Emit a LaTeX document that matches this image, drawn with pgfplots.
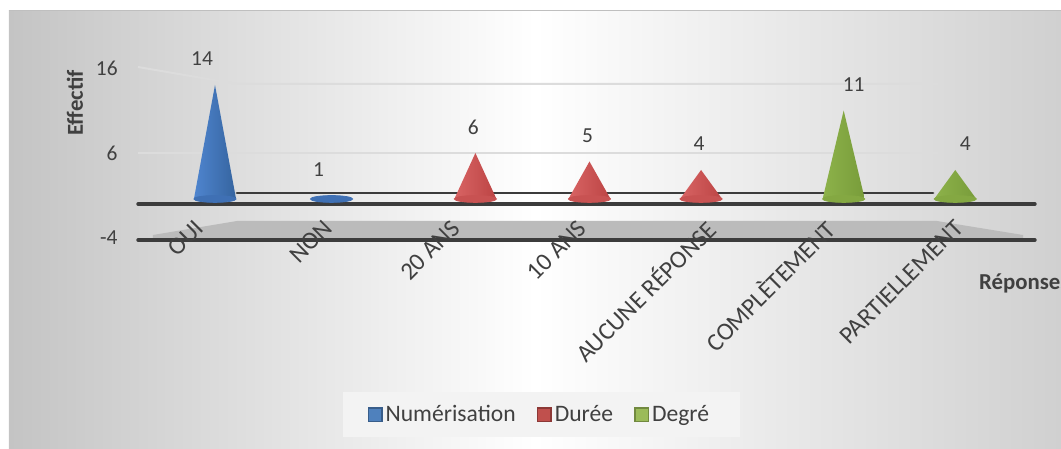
\documentclass[border=0pt]{standalone}
\usepackage{pgfplots}
\pgfplotsset{compat=1.18}
\usepackage{fontspec}
\setmainfont{Carlito}
\definecolor{txt}{HTML}{404040}
\definecolor{bgL}{HTML}{C4C4C4}
\definecolor{bgR}{HTML}{D0D0D0}
\definecolor{gridc}{HTML}{DCDCDC}
\definecolor{bandc}{HTML}{BBBBBB}
\definecolor{linec}{HTML}{3C3C3C}
\definecolor{legbg}{HTML}{F3F3F3}
% cone colours
\definecolor{bL}{HTML}{4F85CF}\definecolor{bH}{HTML}{A8CDF4}\definecolor{bR}{HTML}{35649F}\definecolor{bRim}{HTML}{3F70B4}
\definecolor{rL}{HTML}{D86464}\definecolor{rH}{HTML}{F8B2B2}\definecolor{rR}{HTML}{BC4444}\definecolor{rRim}{HTML}{C85252}
\definecolor{gL}{HTML}{8DB24A}\definecolor{gH}{HTML}{DAF0A2}\definecolor{gR}{HTML}{789C3A}\definecolor{gRim}{HTML}{84A842}
% legend colours
\definecolor{lB}{HTML}{4F81BD}\definecolor{lBd}{HTML}{385D8A}
\definecolor{lR}{HTML}{C0504D}\definecolor{lRd}{HTML}{8C3836}
\definecolor{lG}{HTML}{9BBB59}\definecolor{lGd}{HTML}{71893F}
\begin{document}
\begin{tikzpicture}
% ---- decoration in pixel coordinates (1 px = 0.5 pt) ----
\begin{scope}[shift={(-107.5pt,102pt)}, x=0.5pt, y=-0.5pt]
  \shade[left color=bgL, right color=bgR, middle color=white] (9,11) rectangle (1061,449);
  \draw[gray!50, line width=0.5pt] (9,11) -- (1061,11);
  \draw[gridc, line width=1pt] (138,67) -- (237,84) -- (938,84);
  \draw[gridc, line width=1pt] (138,153) -- (938,153);
  \fill[bandc] (153,235) -- (237,221) -- (937,221) -- (1023,235) -- (1023,240) -- (153,240) -- cycle;
  \draw[linec, line width=1.7pt, line cap=round] (138,204) -- (1035,204);
  \draw[linec, line width=1.7pt, line cap=round] (138,240) -- (1035,240);
  \draw[linec, line width=1.4pt, line cap=round] (237,193) -- (933,193);
  \fill[legbg] (343,392) rectangle (740,437);
  \node[rotate=90, text=txt, font=\bfseries\fontsize{11.4}{13}\selectfont] at (75,103) {Effectif};
  \node[anchor=west, text=txt, font=\bfseries\fontsize{11.4}{13}\selectfont] at (972,283) {Réponses};
\end{scope}
\begin{axis}[
  at={(0,0)}, anchor=origin,
  x=62pt, y=4.25pt,
  xmin=-0.621, xmax=6.613, ymin=-4.2, ymax=16,
  clip=false,
  axis line style={draw=none},
  major tick length=0pt, tick style={draw=none},
  /pgf/number format/assume math mode=true,
  ytick={-4,6,16},
  yticklabel style={anchor=east, inner sep=0pt, xshift=-10pt, text=txt, font=\fontsize{10.7}{12}\selectfont},
  xtick={-0.065,0.97,2.0,3.02,4.06,5.02,6.06},
  xticklabels={OUI,NON,20 ANS,10 ANS,AUCUNE RÉPONSE,COMPLÈTEMENT,PARTIELLEMENT},
  xticklabel style={rotate=45, anchor=east, inner sep=0pt, yshift=8pt, xshift=3pt, text=txt, font=\fontsize{12.4}{14}\selectfont},
  legend style={at={(axis cs:2.62,-24.8)}, anchor=center, legend columns=3, draw=none, fill=none,
    text=txt, font=\fontsize{11.8}{14}\selectfont, nodes={inner sep=1.5pt},
    /tikz/every even column/.append style={column sep=9pt}},
  legend image code/.code={\draw[#1, line width=0.7pt] (0pt,-3.4pt) rectangle (6.8pt,3.4pt);},
]
% ---------- Numérisation ----------
\addplot[forget plot, only marks, color=bRim, mark=*, mark size=1.7pt, mark options={xscale=6.2, fill=bRim, draw=bRim}]
  coordinates {(0,0.59) (0.94,0.59)};
\addplot[forget plot, draw=none, shade, shading=axis, shading angle=90, left color=bL, middle color=bH, right color=bR]
  coordinates {(-0.17,0.59) (0,14) (0.17,0.59)} -- cycle;
\addplot[forget plot, draw=none, shade, shading=axis, shading angle=90, left color=bL, middle color=bH, right color=bR]
  coordinates {(0.77,0.59) (0.94,1) (1.11,0.59)} -- cycle;
\addplot[forget plot, draw=none, mark=none, nodes near coords,
  nodes near coords style={anchor=center, yshift=13pt, xshift=-6.5pt, text=txt, font=\fontsize{10.7}{12}\selectfont}]
  coordinates {(0,14) (0.94,1)};
% ---------- Durée ----------
\addplot[forget plot, only marks, color=rRim, mark=*, mark size=1.7pt, mark options={xscale=6.2, fill=rRim, draw=rRim}]
  coordinates {(2.10,0.59) (3.02,0.59) (3.92,0.59)};
\addplot[forget plot, draw=none, shade, shading=axis, shading angle=90, left color=rL, middle color=rH, right color=rR]
  coordinates {(1.93,0.59) (2.10,6) (2.27,0.59)} -- cycle;
\addplot[forget plot, draw=none, shade, shading=axis, shading angle=90, left color=rL, middle color=rH, right color=rR]
  coordinates {(2.85,0.59) (3.02,5) (3.19,0.59)} -- cycle;
\addplot[forget plot, draw=none, shade, shading=axis, shading angle=90, left color=rL, middle color=rH, right color=rR]
  coordinates {(3.75,0.59) (3.92,4) (4.09,0.59)} -- cycle;
\addplot[forget plot, draw=none, mark=none, nodes near coords,
  nodes near coords style={anchor=center, yshift=13pt, xshift=-1pt, text=txt, font=\fontsize{10.7}{12}\selectfont}]
  coordinates {(2.10,6) (3.02,5) (3.92,4)};
% ---------- Degré ----------
\addplot[forget plot, only marks, color=gRim, mark=*, mark size=1.7pt, mark options={xscale=6.2, fill=gRim, draw=gRim}]
  coordinates {(5.07,0.59) (5.97,0.59)};
\addplot[forget plot, draw=none, shade, shading=axis, shading angle=90, left color=gL, middle color=gH, right color=gR]
  coordinates {(4.90,0.59) (5.07,11) (5.24,0.59)} -- cycle;
\addplot[forget plot, draw=none, shade, shading=axis, shading angle=90, left color=gL, middle color=gH, right color=gR]
  coordinates {(5.80,0.59) (5.97,4) (6.14,0.59)} -- cycle;
\addplot[forget plot, draw=none, mark=none, nodes near coords,
  nodes near coords style={anchor=center, yshift=13pt, xshift=5pt, text=txt, font=\fontsize{10.7}{12}\selectfont}]
  coordinates {(5.07,11) (5.97,4)};
% ---------- legend ----------
\addlegendimage{fill=lB, draw=lBd}\addlegendentry{Numérisation}
\addlegendimage{fill=lR, draw=lRd}\addlegendentry{Durée}
\addlegendimage{fill=lG, draw=lGd}\addlegendentry{Degré}
\end{axis}
\pgfresetboundingbox
\begin{scope}[shift={(-107.5pt,102pt)}, x=0.5pt, y=-0.5pt]
  \path[use as bounding box] (0,0) rectangle (1061,449);
\end{scope}
\end{tikzpicture}
\end{document}
